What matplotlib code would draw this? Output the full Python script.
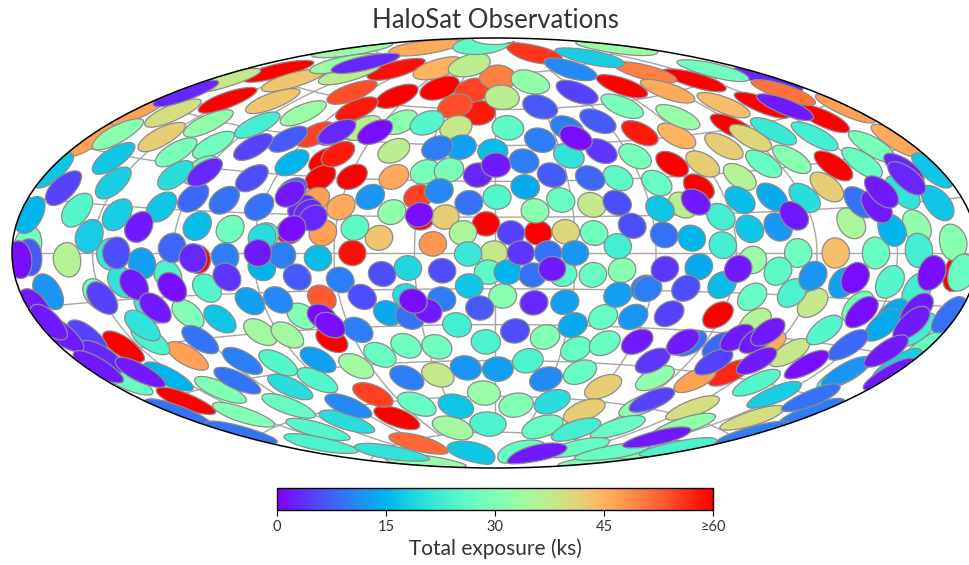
#!/usr/bin/env python3
"""HaloSat observation fields on an Aitoff sky map, coloured by total exposure."""
import numpy as np
import matplotlib
matplotlib.use("Agg")
import matplotlib.pyplot as plt
from matplotlib.cm import ScalarMappable
from matplotlib.colors import Normalize

plt.rcParams["font.family"] = ["Lato", "DejaVu Sans"]

# field centres in degrees and exposure in ks, in drawing order
lon_deg = [176.0,
    -164.6, -151.8, -74.2, 95.6, -67.6, -43.6, -59.2, -72.0, 143.6, 147.4,
    161.6, 118.2, 76.2, 141.0, 81.8, -77.0, -111.2, -28.2, -3.4, 16.2,
    81.8, 173.0, 88.6, -156.4, -164.6, -69.8, -74.6, -101.4, -53.2, -9.6,
    -81.6, 72.2, -70.4, 113.4, 78.0, -87.8, -17.2, -30.4, -71.6, -98.6,
    -25.4, -66.8, -96.6, 168.0, 129.6, 3.0, -23.2, -178.8, -178.6, 178.2,
    -70.4, -64.6, -135.2, 101.6, -142.4, -42.0, 116.4, 176.6, -59.6, 116.6,
    -65.8, 88.2, 130.2, 127.0, -144.6, -131.0, -43.4, -152.2, 104.4, 89.0,
    131.8, -19.0, 59.8, 62.6, 26.6, 119.8, -163.4, 122.0, 159.8, -173.6,
    -20.6, 37.6, -0.4, 122.8, -29.4, 128.6, -124.8, -33.4, 5.0, -68.2,
    -46.4, 72.8, 100.4, -159.6, 104.6, -12.0, 134.4, -97.2, -87.0, -66.8,
    -39.8, -106.2, -177.0, -146.4, 173.6, 99.2, 96.2, -6.6, -159.4, -141.6,
    31.0, -39.6, 158.6, 81.8, 92.6, 137.4, -170.8, -51.6, 127.0, 15.4,
    47.6, 3.0, 171.0, -121.0, -77.0, -141.6, -154.0, 21.4, 14.2, 175.8,
    164.2, -138.8, 77.6, 62.4, -29.6, -19.6, 164.2, -174.2, -127.0, -122.4,
    166.0, -99.6, -151.4, 37.2, 113.0, 140.8, -39.2, -25.8, 114.0, 153.2,
    65.8, 25.8, 36.8, 43.4, 142.0, 174.8, 98.8, -172.6, -124.4, -52.6,
    36.2, 47.8, 42.8, -51.2, 43.6, 102.2, 51.4, 113.2, 150.6, 179.0,
    -60.8, 6.8, 50.8, -52.8, -2.6, 25.6, 106.0, -37.0, -159.4, -86.2,
    -109.4, 0.8, 148.8, -100.6, -91.4, -137.8, 134.0, 131.0, -122.8, 113.4,
    -143.2, -160.8, -4.0, 15.6, -6.2, 172.0, -119.4, 147.2, 45.8, -15.6,
    86.0, 85.0, 158.0, 160.0, 75.6, 169.2, 161.0, 133.2, -143.4, -134.2,
    -10.0, -141.6, 33.2, -140.6, 159.4, -144.2, -130.4, -87.2, -34.0, 120.8,
    -108.4, 36.8, -110.8, -32.6, -152.0, 126.4, -143.6, -151.8, 176.6, 147.4,
    -160.6, -179.0, 177.2, -128.2, -109.8, -9.8, 63.6, 95.8, 170.0, -26.6,
    -48.6, -1.0, -112.2, -66.0, 95.6, 86.0, -87.4, -176.4, -87.2, 4.8,
    73.6, 149.0, -154.0, 12.2, -42.6, 32.0, 108.4, 76.2, 155.4, 154.8,
    -16.0, -131.8, -94.8, 27.2, 47.2, 131.4, -81.8, 1.4, -169.6, -49.2,
    29.8, 55.4, 106.6, 119.4, -14.4, 160.8, 81.4, -83.8, -22.4, 27.0,
    -93.4, 22.0, 37.8, -27.0, 12.8, -79.4, -100.6, -58.4, -20.6, 57.0,
    58.2, -115.0, -57.0, -46.0, 177.4, 178.4, -105.4, -91.0, -179.0, -10.2,
    19.8, 14.2, -34.2, 63.4, 140.8, 177.2, -123.6, -128.0, -178.2, -176.6,
    84.0, 164.8, 39.4, -117.8, -120.4, 97.0, 148.6, -98.0, 28.4, 56.2,
    23.8, -80.8, -74.4, -174.0, -6.0, -99.4, -141.2, 47.6, 51.8, -42.4,
    -19.8, -51.2, 72.6, 8.4, -109.6, -169.4, 60.0, -150.4, 6.0, 69.2,
    -166.2, 94.0, 101.0, 48.6, -100.8, 9.6, 63.6, 73.6, -175.2, -79.4,
    -119.8, -135.2, -79.0, -7.2, 166.6, -74.4, -71.6, -69.2, -112.6, 15.2,
    164.8, -168.4, 0.4, 155.2, -134.0, -81.0, -88.4, -136.4, -132.2, -177.2,
    21.4, -26.6, 78.2, 113.8, 146.4, 151.4, 91.0, 163.6, -174.6, -176.2,
    -175.6, -162.6, 61.4, 86.0, 80.8, 101.8, 110.4, 112.4, 118.8, 165.2,
    165.8, 179.0, 143.2, -60.6, 39.8, -76.4, -177.8, -122.4, -69.2, -29.0,
    -31.8, 135.4, 163.6, 143.4, -67.4, 141.2]
lat_deg = [55.0,
    61.8, 51.2, 36.6, 65.4, 63.4, 68.2, 30.6, 29.6, 61.6, 50.0,
    42.4, 45.6, 34.8, 28.6, 25.4, 8.6, -2.2, 14.6, 12.2, 8.4,
    25.4, -5.6, -23.6, -29.0, -46.8, -34.4, -66.4, 72.8, 0.0, 58.6,
    56.8, 47.6, 39.2, -43.8, 82.4, 45.8, 68.0, 23.2, -56.8, 62.4,
    61.2, -17.8, -76.6, 51.2, 67.8, 73.6, 3.8, 41.8, 32.0, 42.8,
    20.8, 8.0, -34.8, -47.8, 81.2, 31.2, 60.8, 32.2, 18.4, -32.8,
    75.8, 45.2, 52.8, 0.0, 61.4, 54.4, 6.2, 37.2, 39.6, 34.0,
    22.2, 15.0, -54.2, -64.2, 8.8, 41.2, 44.0, -57.0, -54.8, 55.2,
    52.2, 19.8, 0.0, -17.2, -50.6, -34.4, 67.8, 78.4, 65.2, 50.0,
    41.8, 18.8, 28.2, -2.0, -25.2, 8.4, 9.8, -29.6, -31.4, -45.2,
    -72.6, 52.6, 72.6, 69.8, 75.2, 51.8, -2.6, -58.6, -81.4, 43.8,
    71.2, 16.8, 7.8, -49.0, -59.2, -62.2, 35.2, 53.4, 32.4, 17.6,
    -7.0, -18.0, 3.0, -21.2, -24.6, -46.6, -54.6, -35.0, -63.6, -77.4,
    -70.6, 33.6, 58.4, 38.8, 33.6, 34.6, 32.2, 2.2, 37.6, 29.0,
    61.8, 8.8, -13.0, 8.2, 0.0, -17.4, -38.2, -39.0, 32.0, 28.2,
    27.8, 22.0, -9.0, -26.2, 0.0, -5.4, -16.2, -37.6, -55.8, -41.4,
    -39.6, -36.8, -49.0, -62.0, -72.0, -68.0, -82.6, -77.4, -74.8, -26.6,
    87.6, 52.4, 30.4, 10.2, -8.0, -8.8, -6.6, 53.8, 12.8, 6.4,
    -12.6, 23.4, -9.0, -41.2, -49.0, -64.4, -25.8, -45.4, -7.6, -14.2,
    -28.2, -67.6, -37.2, -45.0, -71.6, -67.2, 46.2, 38.2, 2.8, -30.0,
    13.8, 3.0, 0.8, -11.0, -71.6, -22.2, -37.8, 42.0, -0.4, -18.2,
    -0.4, -23.6, 40.2, -9.4, 18.2, -76.4, 26.4, 6.0, -17.8, 19.2,
    -50.0, -61.6, -64.6, -6.2, 21.8, 76.4, 12.2, 5.2, -32.0, -47.6,
    28.8, 22.8, 23.0, 15.6, -23.8, -13.8, 17.6, 9.0, 14.2, -63.8,
    -83.2, 42.6, 9.6, -2.0, 19.8, -12.2, 34.6, 10.4, -5.4, -8.0,
    5.8, 7.2, -39.6, 27.6, -24.6, -29.8, 20.2, -5.4, -19.0, -22.2,
    44.2, -3.4, -18.0, -20.4, -17.0, -10.0, -41.6, -48.6, -11.0, 22.8,
    0.0, -25.8, 9.4, -8.0, -48.0, -36.8, 74.4, -18.0, 25.8, -52.4,
    -59.6, 47.0, 51.6, 43.6, 38.4, -0.8, -1.4, -10.8, -19.2, -14.0,
    -14.4, -39.0, -31.0, -51.2, -48.4, -57.4, 19.2, 17.4, -16.2, 21.0,
    0.0, -9.2, -26.4, 7.2, 16.4, -17.0, -30.2, -45.0, -48.4, -57.8,
    -34.8, -45.6, 30.8, 19.4, 1.8, -34.6, -29.4, 43.0, 60.8, 53.6,
    32.4, 24.0, -9.4, -1.2, -23.0, 27.8, 0.0, 20.4, 11.0, -8.6,
    -7.4, -17.8, -13.8, -32.6, 38.8, 18.6, 65.6, -14.0, 8.4, -24.0,
    -24.6, -57.0, -40.8, 41.6, -8.8, 0.0, -6.4, -42.6, 49.2, 47.2,
    28.4, 71.8, 47.6, 32.6, 24.4, 17.6, 16.0, 13.8, -1.8, -20.8,
    22.0, -30.6, 36.8, 47.8, 8.6, 22.8, 0.0, -10.4, -18.4, -14.8,
    -6.6, -24.0, 19.8, 13.2, 14.6, 19.0, -6.0, -16.8, -23.0, -19.2,
    -32.8, -36.8, -35.6, -82.4, -34.6, -31.4, -31.4, -28.4, -38.6, -20.6,
    -29.2, -34.6, -67.6, 48.8, 47.4, 9.4, -1.8, -11.8, -25.2, 15.8,
    -19.8, -8.2, -5.8, -19.0, -28.6, -37.2]
exposure_ks = [3,
    60, 60, 60, 60, 60, 60, 60, 60, 60, 60,
    60, 60, 60, 60, 60, 60, 60, 60, 60, 60,
    60, 60, 60, 60, 60, 60, 60, 59, 59, 58,
    58, 58, 58, 57, 56, 55, 55, 55, 55, 54,
    54, 53, 52, 51, 50, 50, 48, 47, 47, 47,
    47, 47, 47, 47, 46, 46, 46, 46, 46, 46,
    45, 45, 44, 44, 43, 43, 43, 42, 42, 42,
    42, 42, 42, 42, 41, 41, 40, 40, 40, 38,
    38, 38, 38, 38, 38, 38, 37, 37, 37, 37,
    37, 37, 36, 36, 36, 35, 35, 34, 34, 34,
    34, 33, 33, 33, 33, 33, 33, 33, 33, 32,
    32, 32, 32, 32, 32, 32, 31, 31, 31, 31,
    31, 31, 31, 30, 30, 30, 30, 30, 30, 30,
    30, 29, 29, 29, 29, 29, 29, 29, 28, 28,
    28, 28, 28, 28, 28, 28, 28, 28, 27, 27,
    27, 27, 27, 27, 27, 27, 27, 27, 27, 27,
    27, 27, 27, 27, 27, 27, 27, 27, 27, 27,
    26, 26, 26, 26, 26, 26, 26, 25, 25, 25,
    25, 25, 25, 25, 25, 25, 25, 25, 24, 24,
    24, 24, 24, 24, 24, 24, 23, 23, 23, 23,
    23, 23, 23, 23, 23, 23, 23, 22, 22, 22,
    22, 21, 21, 21, 21, 21, 20, 20, 20, 20,
    20, 20, 20, 19, 18, 18, 18, 18, 18, 18,
    17, 17, 17, 17, 17, 17, 17, 17, 17, 17,
    17, 16, 16, 16, 16, 16, 15, 15, 15, 15,
    15, 15, 15, 14, 14, 14, 14, 14, 14, 14,
    13, 13, 13, 13, 13, 13, 13, 13, 12, 12,
    12, 12, 12, 12, 12, 12, 11, 11, 11, 11,
    11, 10, 10, 10, 10, 10, 10, 10, 10, 10,
    10, 10, 10, 10, 10, 10, 9, 9, 9, 9,
    9, 9, 9, 9, 9, 9, 9, 9, 9, 9,
    9, 9, 8, 8, 8, 8, 8, 7, 7, 7,
    7, 7, 7, 7, 7, 6, 6, 6, 6, 6,
    6, 6, 6, 6, 5, 5, 5, 5, 5, 5,
    5, 5, 5, 4, 4, 4, 4, 4, 3, 3,
    3, 3, 3, 3, 3, 3, 3, 3, 3, 3,
    3, 3, 2, 2, 2, 2, 2, 2, 2, 2,
    2, 2, 2, 2, 2, 2, 2, 2, 2, 2,
    2, 2, 2, 2, 2, 2, 2, 2, 2, 2,
    2, 2, 2, 1, 1, 1, 1, 1, 1, 1,
    1, 1, 1, 1, 1, 1]

tick_values = [0, 15, 30, 45, 60]
tick_labels = ["0", "15", "30", "45", "≥60"]

FIELD_RADIUS = np.radians(5.1)


def sky_circle(lon0, lat0, n=48):
    # small circle on the sphere around one field centre, radians
    t = np.linspace(0, 2 * np.pi, n, endpoint=False)
    lat = np.arcsin(np.sin(lat0) * np.cos(FIELD_RADIUS)
                    + np.cos(lat0) * np.sin(FIELD_RADIUS) * np.cos(t))
    dlon = np.arctan2(np.sin(t) * np.sin(FIELD_RADIUS) * np.cos(lat0),
                      np.cos(FIELD_RADIUS) - np.sin(lat0) * np.sin(lat))
    # stop at the map edge instead of wrapping round
    return np.clip(lon0 + dlon, -np.pi, np.pi), lat


cmap = plt.get_cmap("rainbow")
norm = Normalize(0, 60)

fig = plt.figure(figsize=(9.7, 5.65), dpi=100)
ax = fig.add_axes([12 / 970, 97 / 565, 966 / 970, 430 / 565], projection="aitoff")
ax.set_aspect("auto")
ax.grid(True, color="#a6a6a6", linewidth=1.0)
ax.set_axisbelow(True)
ax.set_xticklabels([])
ax.set_yticklabels([])
for spine in ax.spines.values():
    spine.set_linewidth(1.1)

for lon, lat, exp in zip(lon_deg, lat_deg, exposure_ks):
    xs, ys = sky_circle(np.radians(lon), np.radians(lat))
    ax.fill(xs, ys, facecolor=cmap(norm(exp)), edgecolor="#8c8c8c", linewidth=0.9)

fig.text(495 / 970, 1 - 21 / 565, "HaloSat Observations", ha="center", va="center",
         fontsize=18.5, color="#333333")

cax = fig.add_axes([277 / 970, 1 - 510 / 565, 436 / 970, 22 / 565])
cb = fig.colorbar(ScalarMappable(norm=norm, cmap=cmap), cax=cax, orientation="horizontal")
cb.set_ticks(tick_values)
cb.set_ticklabels(tick_labels)
cb.ax.tick_params(labelsize=10.5, length=4, width=0.8, labelcolor="#333333")
cb.outline.set_linewidth(1.0)
cb.set_label("Total exposure (ks)", fontsize=15, color="#333333", labelpad=3)

fig.savefig("out.png", dpi=100)
